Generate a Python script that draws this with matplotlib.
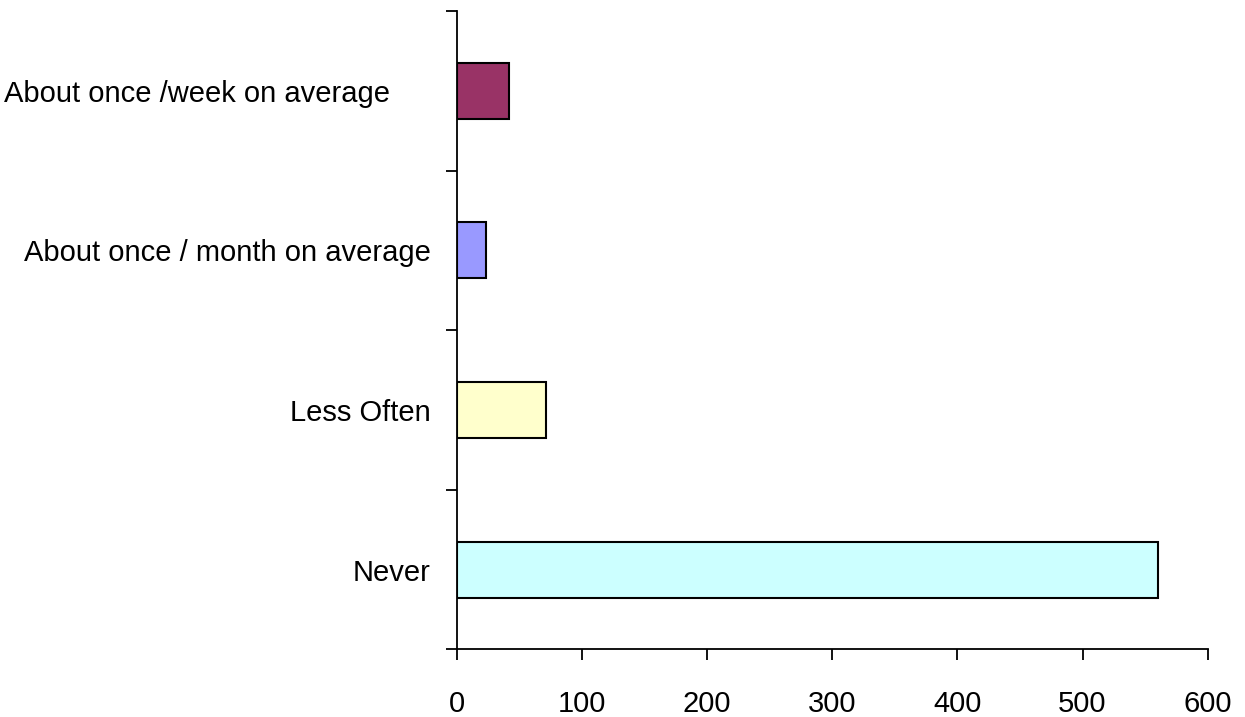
import matplotlib
matplotlib.use("Agg")
import matplotlib.pyplot as plt
import numpy as np

categories = ["Never", "Less Often", "About once / month on average", "About once /week on average     "]
values = [560, 71, 23, 42]
colors = ["#CCFFFF", "#FFFFCC", "#9999FF", "#993366"]
xticks = [0, 100, 200, 300, 400, 500, 600]

plt.rcParams['font.family'] = ['Liberation Sans', 'DejaVu Sans']

fig = plt.figure(figsize=(12.45, 7.17), dpi=100)
ax = fig.add_axes([0.367, 0.0942, 0.603, 0.8905])

pos = np.arange(len(categories))
ax.barh(pos, values, height=0.35, color=colors, edgecolor="black", linewidth=1.5)

ax.set_xlim(0, 600)
ax.set_ylim(-0.5, len(categories) - 0.5)
ax.set_xticks(xticks)
ax.set_xticklabels([str(t) for t in xticks], fontsize=21)
ax.tick_params(axis='x', length=8, width=1.3, pad=21)

ax.set_yticks(np.arange(-0.5, len(categories), 1.0))
ax.set_yticklabels([])
ax.tick_params(axis='y', which='major', length=8, width=1.3)
ax.set_yticks(pos, minor=True)
ax.set_yticklabels(categories, minor=True, fontsize=21)
ax.tick_params(axis='y', which='minor', length=0, pad=19)

for s in ['top', 'right']:
    ax.spines[s].set_visible(False)
for s in ['left', 'bottom']:
    ax.spines[s].set_linewidth(1.3)

fig.savefig("out.png", dpi=100)
